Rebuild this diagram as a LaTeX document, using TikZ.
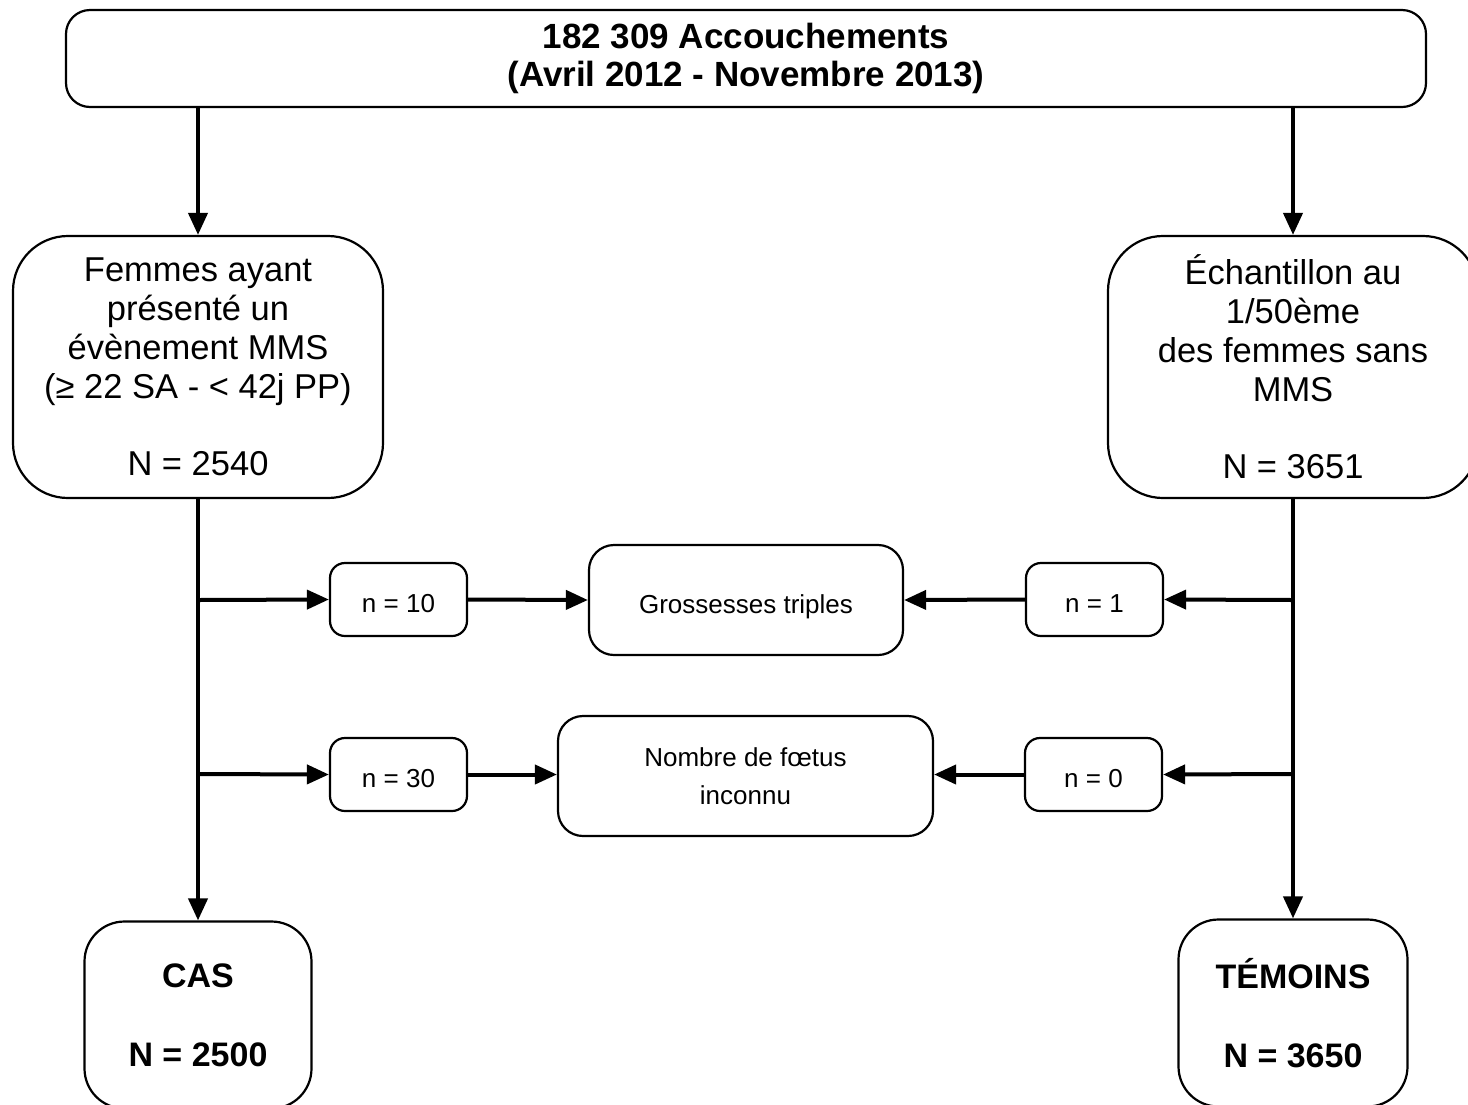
\documentclass[tikz,border=0pt]{standalone}
\usepackage{fontspec}
\setmainfont{Liberation Sans}
\usetikzlibrary{arrows.meta}
\begin{document}
\begin{tikzpicture}[x=1pt,y=-1pt,
  box/.style={draw, line width=2.2pt, rectangle, inner sep=0pt, align=center},
  bigbox/.style={box, rounded corners=55pt, minimum width=370pt, minimum height=262pt,
    font=\fontsize{34.5}{38.8}\selectfont},
  endbox/.style={box, rounded corners=40pt, minimum height=187pt,
    font=\bfseries\fontsize{34}{39.5}\selectfont},
  countbox/.style={box, rounded corners=15pt, minimum width=137pt, minimum height=73pt,
    text height=26pt, text depth=0pt, font=\fontsize{26}{38}\selectfont},
  reasonbox/.style={box, rounded corners=25pt, font=\fontsize{26}{38}\selectfont},
  flow/.style={line width=4pt, -{Triangle[length=22pt,width=19pt]}},
]
\useasboundingbox (0,0) rectangle (1468,1104);
\clip (0,0) rectangle (1468,1104);

% source population
\node[box, rounded corners=24pt, minimum width=1360pt, minimum height=97pt,
  font=\bfseries\fontsize{35}{38}\selectfont] (top) at (746,58.5)
  {182 309 Accouchements\\(Avril 2012 - Novembre 2013)};

% the two study groups
\node[bigbox] (mms) at (198,367)
  {Femmes ayant\\présenté un\\évènement MMS\\(≥ 22 SA - < 42j PP)\\[38.8pt]N = 2540};
\node[bigbox] (ech) at (1293,367)
  {Échantillon au\\1/50ème\\des femmes sans\\MMS\\[38.8pt]N = 3651};

% final groups
\node[endbox, minimum width=227pt] (cas) at (198,1015) {CAS\\[39.5pt]N = 2500};
\node[endbox, minimum width=229pt] (tem) at (1293,1013) {TÉMOINS\\[39.5pt]N = 3650};

% exclusions
\node[countbox] (n10) at (398.5,599.5) {n = 10};
\node[countbox] (n1) at (1094.5,599.5) {n = 1};
\node[countbox] (n30) at (398.5,774.5) {n = 30};
\node[countbox] (n0) at (1093.5,774.5) {n = 0};
\node[reasonbox, minimum width=314pt, minimum height=110pt,
  text height=26pt, text depth=0pt] (gros) at (746,600) {Grossesses triples};
\node[reasonbox, minimum width=375pt, minimum height=120pt] (nomb) at (745.5,776)
  {Nombre de fœtus\\inconnu};

% branch points on the vertical trunks
\coordinate (jl1) at (198,600);
\coordinate (jl2) at (198,774);
\coordinate (jr1) at (1293,600);
\coordinate (jr2) at (1293,774);

% connectors
\draw[flow] (top.south -| mms) -- (mms.north);
\draw[flow] (top.south -| ech) -- (ech.north);
\draw[flow] (mms.south) -- (cas.north -| mms.south);
\draw[flow] (ech.south) -- (tem.north -| ech.south);

\draw[flow] (jl1) -- (n10.west);
\draw[flow] (n10.east) -- (gros.west);
\draw[flow] (jl2) -- (n30.west);
\draw[flow] (n30.east) -- (nomb.west |- n30.east);

\draw[flow] (jr1) -- (n1.east);
\draw[flow] (n1.west) -- (gros.east);
\draw[flow] (jr2) -- (n0.east);
\draw[flow] (n0.west) -- (nomb.east |- n0.west);
\end{tikzpicture}
\end{document}
